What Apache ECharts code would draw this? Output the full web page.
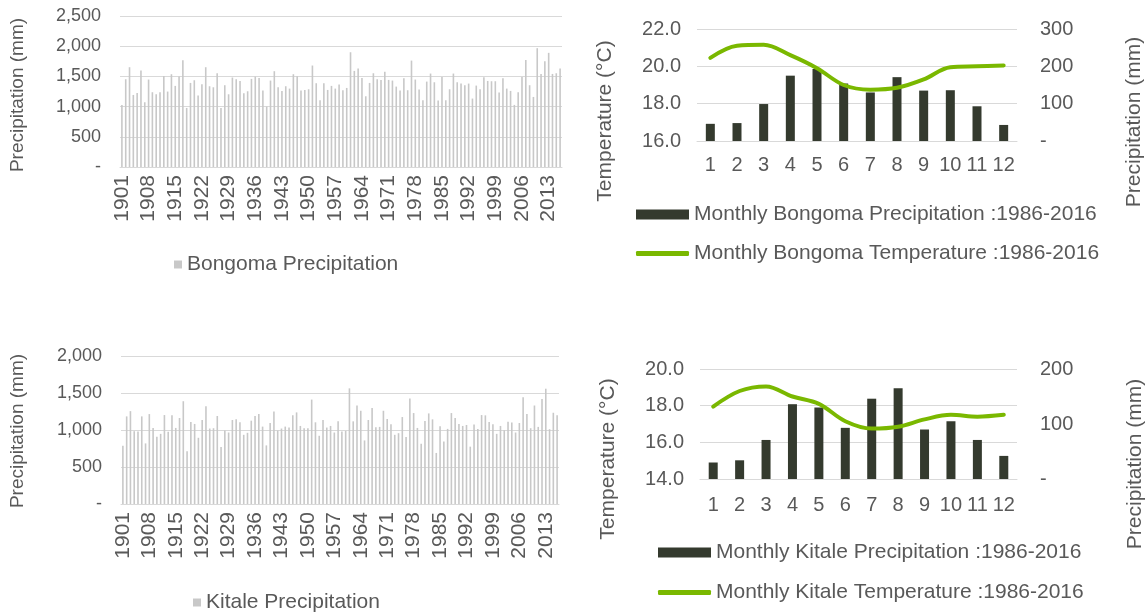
<!DOCTYPE html>
<html>
<head>
<meta charset="utf-8">
<script src="https://cdn.jsdelivr.net/npm/echarts@6/dist/echarts.min.js"></script>
<style>
  html, body { margin: 0; padding: 0; background: #ffffff; }
  #chart { width: 1147px; height: 613px; }
</style>
</head>
<body>
<div id="chart"></div>
<script>
// Annual precipitation, 1901-2016 (mm)
const years = [];
for (let y = 1901; y <= 2016; y++) years.push(String(y));

const bongomaAnnual = [
  1028, 1453, 1652, 1193, 1227, 1597, 1072, 1448, 1238, 1204,
  1238, 1508, 1249, 1536, 1343, 1497, 1768, 978, 1392, 1436,
  1182, 1370, 1652, 1337, 1320, 1552, 978, 1354, 1204, 1481,
  1453, 1425, 1221, 1254, 1459, 1497, 1475, 1265, 1000, 1431,
  1586, 1320, 1260, 1337, 1298, 1536, 1503, 1265, 1276, 1287,
  1680, 1387, 1105, 1387, 1276, 1343, 1298, 1365, 1271, 1309,
  1900, 1591, 1630, 1475, 1171, 1392, 1552, 1453, 1442, 1575,
  1442, 1431, 1331, 1265, 1470, 1271, 1762, 1448, 1282, 1105,
  1414, 1547, 1403, 1099, 1492, 1105, 1287, 1547, 1403, 1381,
  1354, 1381, 1133, 1348, 1287, 1486, 1425, 1420, 1420, 1232,
  1470, 1298, 1260, 1028, 1238, 1492, 1773, 1354, 1160, 1967,
  1541, 1751, 1890, 1541, 1552, 1630
];

const kitaleAnnual = [
  788, 1184, 1255, 984, 979, 1184, 819, 1215, 1028, 908,
  948, 1202, 975, 1198, 1028, 1162, 1389, 712, 1109, 1082,
  895, 1135, 1322, 1020, 1024, 1189, 770, 993, 966, 1135,
  1144, 1104, 935, 962, 1126, 1189, 1215, 1046, 792, 1095,
  1251, 993, 1020, 1046, 1033, 1198, 1238, 1055, 1024, 1024,
  1411, 1104, 922, 1135, 1033, 1055, 966, 1117, 979, 988,
  1563, 1117, 1331, 1260, 859, 1135, 1296, 1037, 1042, 1260,
  1149, 1077, 935, 957, 1175, 904, 1425, 1229, 1028, 815,
  1122, 1224, 1144, 690, 1051, 846, 1015, 1229, 1162, 1082,
  1055, 1068, 775, 1073, 1015, 1202, 1198, 1109, 1077, 948,
  1055, 997, 1113, 1100, 966, 1095, 1442, 1215, 1024, 1331,
  1042, 1420, 1558, 1011, 1233, 1198
];

// Monthly climatology, 1986-2016
const months = ['1', '2', '3', '4', '5', '6', '7', '8', '9', '10', '11', '12'];
const bongomaMonthlyPrecip = [46, 48, 99, 175, 193, 154, 130, 171, 135, 136, 93, 43];
const bongomaMonthlyTemp = [20.45, 21.1, 21.15, 20.6, 19.9, 19.0, 18.75, 18.85, 19.3, 19.95, 20.0, 20.05];
const kitaleMonthlyPrecip = [30, 34, 71, 136, 130, 93, 146, 165, 90, 105, 71, 42];
const kitaleMonthlyTemp = [17.95, 18.8, 19.05, 18.5, 18.1, 17.15, 16.75, 16.85, 17.25, 17.5, 17.4, 17.5];

const TEXT = '#595959';
const GRID_LINE = '#d9d9d9';
const FONT = '"Liberation Sans", Arial, sans-serif';
const ANNUAL_BAR = '#c8c8c8';
const MONTH_BAR = '#343a2e';
const MONTH_LINE = '#7ab800';

const dash = v => (v === 0 ? '-' : null);
const mmFormat = v => dash(v) || v.toLocaleString('en-US');
const mmPlain = v => dash(v) || String(v);
const tempFormat = v => v.toFixed(1);

function annualXAxis(gridIndex) {
  return {
    type: 'category', gridIndex, data: years,
    axisLine: { lineStyle: { color: GRID_LINE, width: 1 } },
    axisTick: { show: false },
    axisLabel: { interval: 6, rotate: 90, color: TEXT, fontSize: 21, fontFamily: FONT, margin: 8 }
  };
}

function annualYAxis(gridIndex, max) {
  return {
    type: 'value', gridIndex, min: 0, max, interval: 500,
    axisLine: { show: false }, axisTick: { show: false },
    splitLine: { lineStyle: { color: GRID_LINE, width: 1 } },
    axisLabel: { color: TEXT, fontSize: 18, fontFamily: FONT, margin: 19, formatter: mmFormat }
  };
}

function monthXAxis(gridIndex, margin) {
  return {
    type: 'category', gridIndex, data: months,
    axisLine: { lineStyle: { color: GRID_LINE, width: 1 } },
    axisTick: { show: false },
    axisLabel: { interval: 0, hideOverlap: false, color: TEXT, fontSize: 20, fontFamily: FONT, margin }
  };
}

function tempAxis(gridIndex, min, max) {
  return {
    type: 'value', gridIndex, min, max, interval: 2, position: 'left',
    axisLine: { show: false }, axisTick: { show: false },
    splitLine: { lineStyle: { color: GRID_LINE, width: 1 } },
    axisLabel: { color: TEXT, fontSize: 20, fontFamily: FONT, margin: 16, formatter: tempFormat }
  };
}

function precipAxis(gridIndex, max) {
  return {
    type: 'value', gridIndex, min: 0, max, interval: 100, position: 'right',
    axisLine: { show: false }, axisTick: { show: false },
    splitLine: { show: false },
    axisLabel: { color: TEXT, fontSize: 20, fontFamily: FONT, margin: 23, formatter: mmPlain }
  };
}

function legend(name, left, top, icon, w, h, size) {
  return {
    data: [name], left, top, padding: 0, icon, itemWidth: w, itemHeight: h,
    itemGap: 0, selectedMode: false,
    textStyle: { color: TEXT, fontSize: size, fontFamily: FONT, padding: [0, 0, 0, 0] }
  };
}

// Vertical axis titles, reading bottom to top
function axisTitle(text, x, y, size) {
  return {
    type: 'text', x, y, rotation: Math.PI / 2, silent: true,
    style: { text, fill: TEXT, font: size + 'px ' + FONT, align: 'center', verticalAlign: 'middle' }
  };
}

const option = {
  animation: false,
  backgroundColor: '#ffffff',
  textStyle: { fontFamily: FONT },
  grid: [
    { left: 120, top: 16, width: 442, height: 151 },
    { left: 121, top: 356, width: 438, height: 148 },
    { left: 697, top: 29, width: 320, height: 112 },
    { left: 700, top: 369, width: 317, height: 110 }
  ],
  xAxis: [annualXAxis(0), annualXAxis(1), monthXAxis(2, 14), monthXAxis(3, 16)],
  yAxis: [
    annualYAxis(0, 2500),
    annualYAxis(1, 2000),
    tempAxis(2, 16, 22),
    precipAxis(2, 300),
    tempAxis(3, 14, 20),
    precipAxis(3, 200)
  ],
  legend: [
    legend('Bongoma Precipitation', 174, 254, 'rect', 8, 8, 21),
    legend('Kitale Precipitation', 193, 592, 'rect', 8, 8, 21),
    legend('Monthly Bongoma Precipitation :1986-2016', 636, 204, 'rect', 53, 10, 21),
    legend('Monthly Bongoma Temperature :1986-2016', 636, 243, 'roundRect', 53, 5, 21),
    legend('Monthly Kitale Precipitation :1986-2016', 658, 542, 'rect', 53, 10, 21),
    legend('Monthly Kitale Temperature :1986-2016', 658, 582, 'roundRect', 53, 5, 21)
  ],
  graphic: [
    axisTitle('Precipitation (mm)', 18, 95, 19),
    axisTitle('Precipitation (mm)', 18, 431, 19),
    axisTitle('Temperature (°C)', 605, 121, 21),
    axisTitle('Precipitation (mm)', 1134, 122, 21),
    axisTitle('Temperature (°C)', 608, 459, 21),
    axisTitle('Precipitation (mm)', 1135, 464, 21)
  ],
  series: [
    {
      name: 'Bongoma Precipitation', type: 'bar', xAxisIndex: 0, yAxisIndex: 0,
      data: bongomaAnnual, barWidth: 1.6, itemStyle: { color: ANNUAL_BAR }
    },
    {
      name: 'Kitale Precipitation', type: 'bar', xAxisIndex: 1, yAxisIndex: 1,
      data: kitaleAnnual, barWidth: 1.6, itemStyle: { color: ANNUAL_BAR }
    },
    {
      name: 'Monthly Bongoma Precipitation :1986-2016', type: 'bar', xAxisIndex: 2, yAxisIndex: 3,
      data: bongomaMonthlyPrecip, barWidth: 9, itemStyle: { color: MONTH_BAR }
    },
    {
      name: 'Monthly Bongoma Temperature :1986-2016', type: 'line', xAxisIndex: 2, yAxisIndex: 2,
      data: bongomaMonthlyTemp, smooth: 0.35, showSymbol: false, symbol: 'none',
      lineStyle: { color: MONTH_LINE, width: 4, cap: 'round' }, itemStyle: { color: MONTH_LINE }
    },
    {
      name: 'Monthly Kitale Precipitation :1986-2016', type: 'bar', xAxisIndex: 3, yAxisIndex: 5,
      data: kitaleMonthlyPrecip, barWidth: 9, itemStyle: { color: MONTH_BAR }
    },
    {
      name: 'Monthly Kitale Temperature :1986-2016', type: 'line', xAxisIndex: 3, yAxisIndex: 4,
      data: kitaleMonthlyTemp, smooth: 0.35, showSymbol: false, symbol: 'none',
      lineStyle: { color: MONTH_LINE, width: 4, cap: 'round' }, itemStyle: { color: MONTH_LINE }
    }
  ]
};

const chart = echarts.init(document.getElementById('chart'), null, { renderer: 'canvas' });
chart.setOption(option);
</script>
</body>
</html>
